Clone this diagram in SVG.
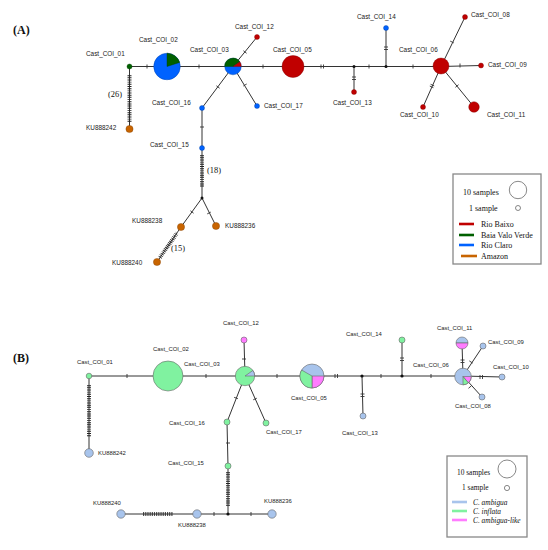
<svg xmlns="http://www.w3.org/2000/svg" width="548" height="550" viewBox="0 0 548 550">
<style>
.e{stroke:#333;stroke-width:1;fill:none}
.t{stroke:#333;stroke-width:0.9;fill:none}
.h{stroke:#222;stroke-width:4;fill:none;stroke-dasharray:0.8 1.05}
.la{font-family:"Liberation Sans",Arial,sans-serif;font-size:6.4px;fill:#222}
.lb{font-family:"Liberation Sans",Arial,sans-serif;font-size:5.9px;fill:#222}
.ser{font-family:"Liberation Serif","Times New Roman",serif;fill:#111}
.pn{font-family:"Liberation Serif","Times New Roman",serif;font-size:12px;font-weight:bold;fill:#111}
.rd{fill:#c00000;stroke:#800000;stroke-width:0.4}
.gr{fill:#006000;stroke:#004000;stroke-width:0.4}
.bl{fill:#0062ff;stroke:#0040a0;stroke-width:0.4}
.or{fill:#c86400;stroke:#804000;stroke-width:0.4}
.jn{fill:#111}
.lbl{fill:#a8c4ec;stroke:#666;stroke-width:0.6}
.lgr{fill:#80f2a0;stroke:#666;stroke-width:0.6}
.lmg{fill:#ff7cff;stroke:#666;stroke-width:0.6}
.box{fill:#fff;stroke:#888;stroke-width:1.3}
.lg{stroke-width:2.6}
</style>

<text class="pn" x="13" y="34">(A)</text>
<text class="pn" x="13" y="362">(B)</text>

<!-- Panel A connectors -->
<g id="connectors-A">
<path class="e" d="M129.5,66.5 H441"/>
<path class="e" d="M233,66.5 L257,37 M233,66.5 L202,108 M233,66.5 L257,106"/>
<path class="e" d="M354,66.5 V92 M386,66.5 V28"/>
<path class="e" d="M441,66.5 L465,17 M441,66.5 L481,65.5 M441,66.5 L423,107 M441,66.5 L474,107"/>
<path class="e" d="M129.5,66.5 V129"/>
<path class="e" d="M202,108 V198 L181,227 L157,262 M202,198 L216,226"/>
<path class="h" d="M129.5,75 V123"/>
<path class="h" d="M202,155 V187"/>
<path class="h" d="M160,257.5 L177,233"/>
<path class="t" d="M147,64.5 V68.5 M199,64.5 V68.5 M263,64.5 V68.5 M321,64.5 V68.5 M323.5,64.5 V68.5 M369,64.5 V68.5 M413,64.5 V68.5 M460,63.5 V67.5"/>
<path class="t" d="M352,77 H356 M352,79.5 H356 M384,47 H388 M384,49.5 H388 M200,127 H204"/>
<path class="t" d="M243.4,50.75 L246.6,53.25 M216.4,85.8 L219.6,88.2 M243.3,86 L246.7,84 M450.2,41.1 L453.8,42.9"/>
<path class="t" d="M430.6,84.3 L434.2,85.9 M429.8,86.1 L433.4,87.7 M455.4,87.3 L458.6,84.7"/>
<path class="t" d="M190.4,210.8 L193.6,213.2 M207.2,213.9 L210.8,212.1"/>
</g>

<!-- Panel A nodes -->
<g id="A-Cast_COI_01"><circle class="gr" cx="129.5" cy="66.5" r="2.5"/><text class="la" x="86" y="56.3">Cast_COI_01</text></g>
<g id="A-Cast_COI_02"><circle class="bl" cx="167" cy="66.5" r="13.3"/><path class="gr" d="M167,66.5 L167,53.2 A13.3,13.3 0 0 1 179.65,62.4 Z"/><text class="la" x="139" y="42.3">Cast_COI_02</text></g>
<g id="A-Cast_COI_03"><circle class="bl" cx="233" cy="66.5" r="8.3"/><path class="gr" d="M233,66.5 L224.7,66.5 A8.3,8.3 0 0 1 239.8,61.74 Z"/><path class="rd" d="M233,66.5 L239.8,61.74 A8.3,8.3 0 0 1 241.3,66.5 Z"/><text class="la" x="190" y="52.3">Cast_COI_03</text></g>
<g id="A-Cast_COI_05"><circle class="rd" cx="293" cy="66.5" r="11"/><text class="la" x="273" y="52.3">Cast_COI_05</text></g>
<g id="A-Cast_COI_06"><circle class="rd" cx="441" cy="66" r="8"/><text class="la" x="399" y="52.3">Cast_COI_06</text></g>
<g id="A-Cast_COI_08"><circle class="rd" cx="465" cy="17" r="2.5"/><text class="la" x="471" y="17.3">Cast_COI_08</text></g>
<g id="A-Cast_COI_09"><circle class="rd" cx="481" cy="65.5" r="2.5"/><text class="la" x="488" y="67.3">Cast_COI_09</text></g>
<g id="A-Cast_COI_10"><circle class="rd" cx="423" cy="107" r="2.5"/><text class="la" x="400" y="117.3">Cast_COI_10</text></g>
<g id="A-Cast_COI_11"><circle class="rd" cx="474" cy="107" r="5.3"/><text class="la" x="487" y="117.3">Cast_COI_11</text></g>
<g id="A-Cast_COI_12"><circle class="rd" cx="257" cy="37" r="2.5"/><text class="la" x="235" y="29.3">Cast_COI_12</text></g>
<g id="A-Cast_COI_13"><circle class="rd" cx="354" cy="92" r="2.5"/><text class="la" x="333" y="105.3">Cast_COI_13</text></g>
<g id="A-Cast_COI_14"><circle class="bl" cx="386" cy="28" r="2.5"/><text class="la" x="357" y="19.3">Cast_COI_14</text></g>
<g id="A-Cast_COI_15"><circle class="bl" cx="202" cy="148" r="2.5"/><text class="la" x="150" y="147.3">Cast_COI_15</text></g>
<g id="A-Cast_COI_16"><circle class="bl" cx="202" cy="108" r="2.5"/><text class="la" x="152" y="105.3">Cast_COI_16</text></g>
<g id="A-Cast_COI_17"><circle class="bl" cx="257" cy="106" r="2.5"/><text class="la" x="264" y="108.3">Cast_COI_17</text></g>
<g id="A-KU888242"><circle class="or" cx="129.5" cy="129" r="3.6"/><text class="la" x="86" y="130.3">KU888242</text></g>
<g id="A-KU888238"><circle class="or" cx="181" cy="227" r="3.6"/><text class="la" x="132" y="223.3">KU888238</text></g>
<g id="A-KU888236"><circle class="or" cx="216" cy="226" r="3.6"/><text class="la" x="225" y="228.3">KU888236</text></g>
<g id="A-KU888240"><circle class="or" cx="157" cy="262" r="3.6"/><text class="la" x="112" y="265.3">KU888240</text></g>
<g id="A-junctions"><circle class="jn" cx="354" cy="66.5" r="1.5"/><circle class="jn" cx="386" cy="66.5" r="1.5"/><circle class="jn" cx="202" cy="198" r="1.5"/></g>
<g id="A-counts"><text class="ser" font-size="8.4" x="108" y="97">(26)</text><text class="ser" font-size="8.4" x="207" y="173">(18)</text><text class="ser" font-size="8.4" x="171" y="251">(15)</text></g>

<g id="A-legend">
<rect class="box" x="453" y="174" width="88" height="90"/>
<text class="ser" font-size="8" x="463" y="194.5">10 samples</text>
<circle cx="518" cy="190" r="8.7" fill="#fff" stroke="#555" stroke-width="0.7"/>
<text class="ser" font-size="8" x="469" y="210.5">1 sample</text>
<circle cx="518" cy="208" r="2.5" fill="#fff" stroke="#555" stroke-width="0.7"/>
<line class="lg" x1="459" y1="224" x2="474" y2="224" stroke="#c00000"/>
<line class="lg" x1="459" y1="235" x2="474" y2="235" stroke="#006000"/>
<line class="lg" x1="459" y1="245" x2="474" y2="245" stroke="#0062ff"/>
<line class="lg" x1="461" y1="256" x2="477" y2="256" stroke="#c86400"/>
<text class="ser" font-size="8" x="481" y="226.5">Rio Baixo</text>
<text class="ser" font-size="8" x="481" y="237.5">Baia Valo Verde</text>
<text class="ser" font-size="8" x="481" y="247.5">Rio Claro</text>
<text class="ser" font-size="8" x="481" y="258.5">Amazon</text>
</g>

<!-- Panel B connectors -->
<g id="connectors-B">
<path class="e" d="M89,376 H463"/>
<path class="e" d="M245,376 L244,340 M245,376 L227,422 M245,376 L266,423"/>
<path class="e" d="M362,376 L363,416 M402,376 V340"/>
<path class="e" d="M463,376 L462,343 M463,376 L483,346 M463,376 L502,377 M463,376 L482,397"/>
<path class="e" d="M89,376 V453"/>
<path class="e" d="M227,422 L228,466 V514 M121,514 H272"/>
<path class="h" d="M89,385 V437"/>
<path class="h" d="M228,472 V507"/>
<path class="h" d="M143,514 H173"/>
<path class="t" d="M127,374 V378 M206,374 V378 M277,374 V378 M335,374 V378 M337.5,374 V378 M381,374 V378 M431,374 V378 M480,375 V379 M482.5,375 V379 M214,512 V516 M251,512 V516"/>
<path class="t" d="M360.5,394 H364.5 M360.5,396.5 H364.5 M400,358 H404 M400,360.5 H404 M460.5,360 H464.5 M460.5,362.5 H464.5 M242,359 H246 M226,443 H230"/>
<path class="t" d="M469.3,360.9 L472.7,363.1 M468.5,388.3 L471.5,385.7 M234.1,397.3 L237.9,398.7 M253.2,399.8 L256.8,398.2"/>
</g>

<!-- Panel B nodes -->
<g id="B-Cast_COI_01"><circle class="lgr" cx="89" cy="376" r="2.8"/><text class="lb" x="77" y="364.2">Cast_COI_01</text></g>
<g id="B-Cast_COI_02"><circle class="lgr" cx="168" cy="376" r="15"/><text class="lb" x="153" y="351.2">Cast_COI_02</text></g>
<g id="B-Cast_COI_03"><circle class="lgr" cx="245" cy="376" r="9.7"/><path class="lbl" d="M245,376 L252.95,370.44 A9.7,9.7 0 0 1 254.7,376 Z"/><text class="lb" x="184" y="366.2">Cast_COI_03</text></g>
<g id="B-Cast_COI_05"><circle class="lbl" cx="312" cy="376" r="12"/><path class="lmg" d="M312,376 L324,376 A12,12 0 0 1 312,388 Z"/><path class="lgr" d="M312,376 L312,388 A12,12 0 0 1 301.6,370 Z"/><text class="lb" x="291" y="400.2">Cast_COI_05</text></g>
<g id="B-Cast_COI_06"><circle class="lbl" cx="463" cy="376.5" r="8.3"/><path class="lmg" d="M463,376.5 L471.3,376.5 A8.3,8.3 0 0 1 468.34,382.86 Z"/><path class="lgr" d="M463,376.5 L468.34,382.86 A8.3,8.3 0 0 1 463,384.8 Z"/><text class="lb" x="413" y="367.2">Cast_COI_06</text></g>
<g id="B-Cast_COI_08"><circle class="lbl" cx="482" cy="397" r="3"/><text class="lb" x="455" y="408.2">Cast_COI_08</text></g>
<g id="B-Cast_COI_09"><circle class="lbl" cx="483" cy="346" r="3"/><text class="lb" x="488" y="344.2">Cast_COI_09</text></g>
<g id="B-Cast_COI_10"><circle class="lbl" cx="502" cy="377" r="3"/><text class="lb" x="493" y="369.2">Cast_COI_10</text></g>
<g id="B-Cast_COI_11"><path class="lbl" d="M456,343 A6,6 0 0 1 468,343 Z"/><path class="lmg" d="M456,343 A6,6 0 0 0 468,343 Z"/><text class="lb" x="437" y="330.2">Cast_COI_11</text></g>
<g id="B-Cast_COI_12"><circle class="lmg" cx="244" cy="340" r="3"/><text class="lb" x="223" y="325.2">Cast_COI_12</text></g>
<g id="B-Cast_COI_13"><circle class="lbl" cx="363" cy="416" r="3"/><text class="lb" x="342" y="435.2">Cast_COI_13</text></g>
<g id="B-Cast_COI_14"><circle class="lgr" cx="402" cy="340" r="3"/><text class="lb" x="346" y="336.2">Cast_COI_14</text></g>
<g id="B-Cast_COI_15"><circle class="lgr" cx="228" cy="466" r="3"/><text class="lb" x="168" y="465.2">Cast_COI_15</text></g>
<g id="B-Cast_COI_16"><circle class="lgr" cx="227" cy="422" r="3"/><text class="lb" x="169" y="425.2">Cast_COI_16</text></g>
<g id="B-Cast_COI_17"><circle class="lgr" cx="266" cy="423" r="3"/><text class="lb" x="266" y="434.2">Cast_COI_17</text></g>
<g id="B-KU888242"><circle class="lbl" cx="89" cy="453" r="4.3"/><text class="lb" x="98" y="455.2">KU888242</text></g>
<g id="B-KU888238"><circle class="lbl" cx="197" cy="514" r="4.2"/><text class="lb" x="178" y="527.2">KU888238</text></g>
<g id="B-KU888236"><circle class="lbl" cx="272" cy="514" r="4.2"/><text class="lb" x="264" y="503.2">KU888236</text></g>
<g id="B-KU888240"><circle class="lbl" cx="121" cy="514" r="4.2"/><text class="lb" x="93" y="505.2">KU888240</text></g>
<g id="B-junctions"><circle class="jn" cx="362" cy="376" r="1.6"/><circle class="jn" cx="402" cy="376" r="1.6"/><circle class="jn" cx="228" cy="514" r="1.6"/></g>

<g id="B-legend">
<rect class="box" x="447" y="456" width="80" height="81"/>
<text class="ser" font-size="7.4" x="457" y="474.5">10 samples</text>
<circle cx="507" cy="469" r="9" fill="#fff" stroke="#555" stroke-width="0.7"/>
<text class="ser" font-size="7.4" x="462" y="489.5">1 sample</text>
<circle cx="507" cy="488" r="2.6" fill="#fff" stroke="#555" stroke-width="0.7"/>
<line class="lg" x1="452" y1="502" x2="467" y2="502" stroke="#a8c4ec"/>
<line class="lg" x1="452" y1="511" x2="467" y2="511" stroke="#80f2a0"/>
<line class="lg" x1="452" y1="520" x2="467" y2="520" stroke="#ff7cff"/>
<text class="ser" font-size="7.4" font-style="italic" x="473" y="504.5">C. ambigua</text>
<text class="ser" font-size="7.4" font-style="italic" x="473" y="513.5">C. inflata</text>
<text class="ser" font-size="7.4" font-style="italic" x="473" y="522.5">C. ambigua-like</text>
</g>
</svg>
